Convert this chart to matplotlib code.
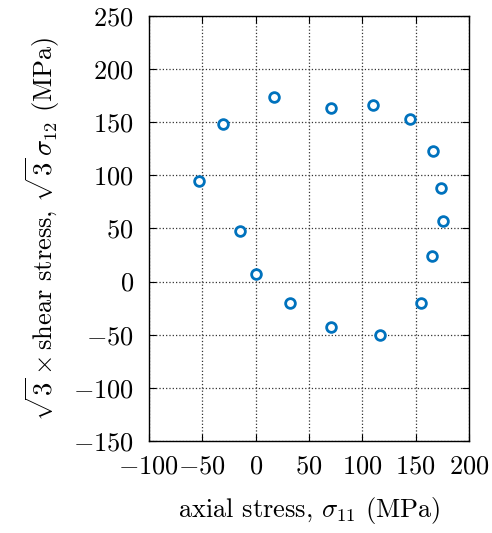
import numpy as np
import matplotlib
matplotlib.use('Agg')
import matplotlib.pyplot as plt

# measured points (MPa)
sigma11 = [17, -31, 71, 110, 145, 166, 174, 176, -53, -15, 0, 32, 71, 117, 155, 165]
sqrt3_sigma12 = [174, 148, 163, 166, 153, 123, 88, 57, 95, 48, 7, -20, -43, -50, -20, 24]

xticks = [-100, -50, 0, 50, 100, 150, 200]
yticks = [-150, -100, -50, 0, 50, 100, 150, 200, 250]

plt.rcParams['font.family'] = 'serif'
plt.rcParams['font.serif'] = ['cmr10']
plt.rcParams['mathtext.fontset'] = 'cm'
plt.rcParams['axes.formatter.use_mathtext'] = True
plt.rcParams['font.size'] = 19

fig = plt.figure(figsize=(4.92, 5.33), dpi=100)
ax = fig.add_axes([0.3028, 0.1726, 0.6505, 0.7974])

ax.plot(sigma11, sqrt3_sigma12, 'o', color='#0072BD', markerfacecolor='white',
        markersize=7, markeredgewidth=2, linestyle='none', zorder=3)

ax.set_xlim(-100, 200)
ax.set_ylim(-150, 250)
ax.set_xticks(xticks)
ax.set_yticks(yticks)
ax.grid(True, linestyle=':', color='#333333', linewidth=0.9)
ax.tick_params(direction='in', top=True, right=True, length=5, width=0.8)
ax.tick_params(axis='y', pad=11)
ax.tick_params(axis='x', pad=10)
for s in ax.spines.values():
    s.set_linewidth(1.0)

ax.set_xlabel(r'axial stress, $\sigma_{11}$ (MPa)', labelpad=12)
ax.set_ylabel(r'$\sqrt{3}\times$shear stress, $\sqrt{3}\,\sigma_{12}$ (MPa)', labelpad=8)

fig.savefig('out.png', dpi=100)
